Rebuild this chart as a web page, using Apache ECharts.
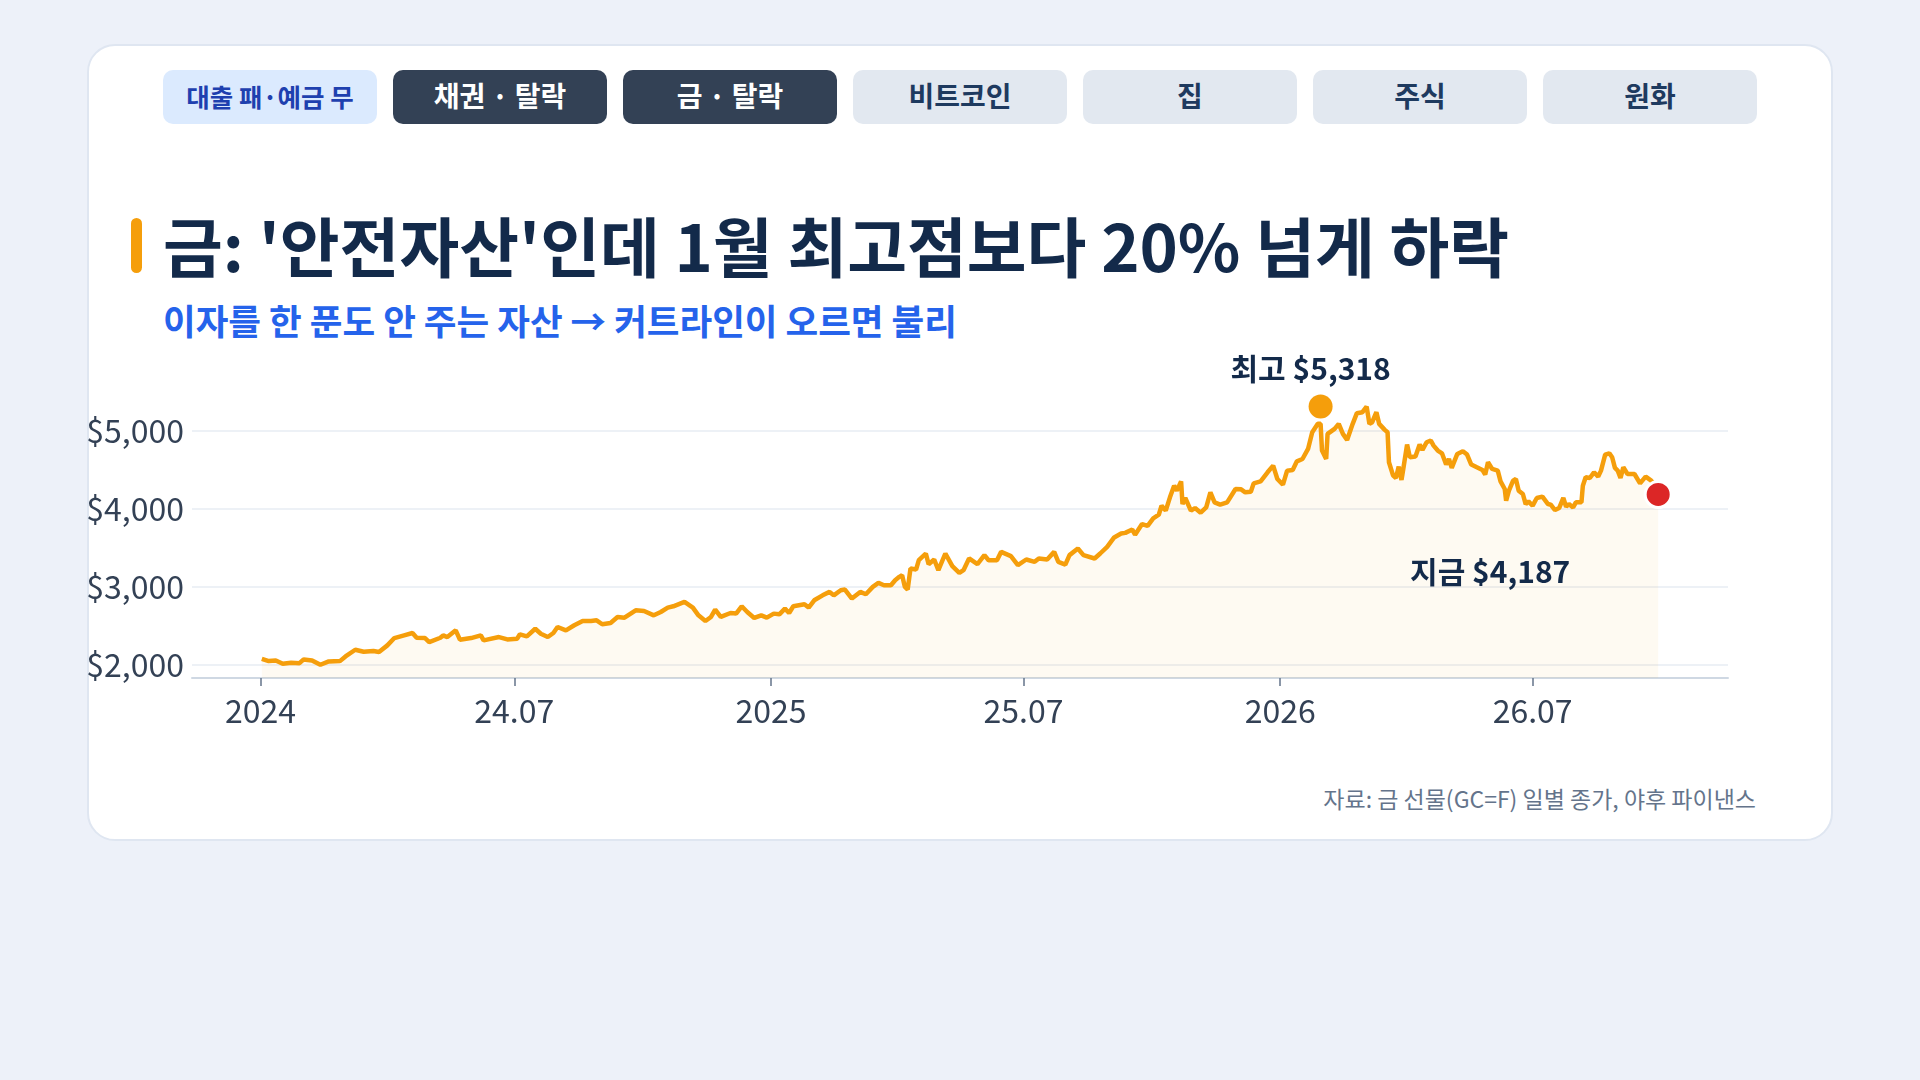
<!DOCTYPE html>
<html>

<head>
    <meta charset="utf-8">
    <script src="https://cdn.jsdelivr.net/npm/echarts@6/dist/echarts.min.js"></script>
</head>

<body>
    <div id="card"></div>
    <div id="tabs"></div>
    <div id="titleBar"></div>
    <div id="title">금: '안전자산'인데 1월 최고점보다 20% 넘게 하락</div>
    <div id="subtitle">이자를 한 푼도 안 주는 자산 → 커트라인이 오르면 불리</div>
    <div id="source">자료: 금 선물(GC=F) 일별 종가, 야후 파이낸스</div>
    <div id="chart"></div>
</body>
<style>
    body {
        margin: 0;
        width: 1920px;
        height: 1080px;
        background: #edf1f9;
        font-family: 'Noto Sans CJK KR', 'Noto Sans', sans-serif;
        position: relative;
        overflow: hidden;
    }

    #card {
        position: absolute;
        left: 87px;
        top: 44px;
        width: 1742px;
        height: 793px;
        background: #fff;
        border: 2px solid #dfe6f1;
        border-radius: 28px;
    }

    #tabs {
        position: absolute;
        left: 163px;
        top: 70px;
        display: flex;
        gap: 16px;
    }

    .tab {
        width: 214px;
        height: 54px;
        box-sizing: border-box;
        padding-bottom: 4px;
        border-radius: 10px;
        display: flex;
        align-items: center;
        justify-content: center;
        font-size: 28px;
        font-weight: 700;
        background: #e2e8f0;
        color: #1e3a5f;
    }

    .tab.info {
        background: #dbeafe;
        color: #1e40af;
        font-size: 25.5px;
    }

    .tab.on {
        background: #334155;
        color: #fff;
    }

    #titleBar {
        position: absolute;
        left: 131px;
        top: 218px;
        width: 11px;
        height: 55px;
        border-radius: 6px;
        background: #f59e0b;
    }

    #title {
        position: absolute;
        left: 163px;
        top: 206px;
        line-height: 76px;
        font-size: 65px;
        font-weight: 700;
        color: #132a4a;
        white-space: nowrap;
    }

    #subtitle {
        position: absolute;
        left: 163px;
        top: 297px;
        line-height: 46px;
        font-size: 35.5px;
        font-weight: 700;
        color: #2563eb;
        white-space: nowrap;
    }

    #source {
        position: absolute;
        right: 164px;
        top: 783px;
        line-height: 30px;
        font-size: 23px;
        color: #64748b;
        white-space: nowrap;
    }

    #chart {
        position: absolute;
        left: 0;
        top: 0;
        width: 1920px;
        height: 1080px;
    }
</style>
<script>
    const tabNames = ['대출 패·예금 무', '채권 · 탈락', '금 · 탈락', '비트코인', '집', '주식', '원화']
    const tabKinds = ['info', 'on', 'on', '', '', '', '']

    // 2024-01-01 부터의 일수, 종가(달러)
    const days = [
        1, 6, 11, 16, 22, 28, 31, 37, 43, 49, 57, 61, 68, 74, 81, 85, 91, 96, 103, 109,
        112, 118, 121, 129, 131, 134, 140, 143, 151, 158, 160, 171, 177, 184, 186, 191, 197, 201, 206, 210,
        213, 219, 225, 231, 237, 241, 245, 251, 256, 261, 269, 275, 282, 287, 292, 296, 304, 310, 314, 319,
        323, 326, 330, 337, 341, 345, 349, 354, 359, 363, 368, 372, 376, 379, 382, 390, 393, 397, 403, 408,
        411, 416, 419, 424, 430, 434, 439, 443, 447, 452, 455, 458, 460, 462, 464, 466, 470, 472, 477, 479,
        483, 486, 491, 496, 501, 504, 508, 514, 519, 522, 528, 531, 538, 543, 549, 555, 558, 564, 569, 572,
        577, 580, 586, 590, 598, 602, 607, 612, 617, 620, 625, 627, 632, 636, 640, 644, 646, 649, 652, 655,
        657, 660, 661, 663, 667, 670, 674, 678, 681, 684, 688, 693, 699, 703, 706, 710, 712, 717, 722, 726,
        729, 733, 736, 740, 743, 747, 751, 754, 758, 760, 761, 764, 765, 770, 773, 776, 779, 783, 786, 790,
        793, 795, 797, 800, 802, 806, 808, 809, 812, 814, 816, 818, 819, 822, 824, 828, 831, 833, 836, 839,
        841, 844, 847, 850, 852, 854, 858, 862, 865, 868, 872, 876, 878, 880, 883, 887, 889, 892, 893, 895,
        898, 900, 902, 905, 907, 909, 912, 915, 919, 923, 925, 928, 931, 934, 936, 938, 941, 943, 947, 948,
        950, 953, 956, 959, 961, 964, 967, 969, 971, 973, 975, 977, 980, 985, 989, 993, 997, 1000, 1002
    ]
    const prices = [
        2077, 2047, 2056, 2013, 2026, 2021, 2069, 2056, 2000, 2043, 2047, 2107, 2193, 2167, 2176, 2163, 2249, 2343, 2378, 2408,
        2347, 2343, 2292, 2347, 2378, 2356, 2442, 2322, 2343, 2378, 2313, 2356, 2326, 2335, 2391, 2365, 2463, 2399, 2357, 2408,
        2485, 2442, 2507, 2562, 2562, 2571, 2520, 2537, 2614, 2605, 2700, 2691, 2635, 2678, 2734, 2751, 2807, 2734, 2635, 2562,
        2614, 2708, 2614, 2665, 2657, 2751, 2678, 2601, 2635, 2605, 2657, 2648, 2721, 2665, 2751, 2777, 2734, 2828, 2892, 2936,
        2892, 2957, 2966, 2850, 2936, 2906, 3000, 3051, 3021, 3021, 3086, 3129, 3150, 3000, 2966, 3236, 3223, 3343, 3429, 3292,
        3352, 3215, 3429, 3266, 3180, 3215, 3365, 3292, 3408, 3343, 3343, 3450, 3395, 3279, 3352, 3322, 3365, 3352, 3450, 3322,
        3287, 3408, 3493, 3408, 3365, 3429, 3515, 3635, 3686, 3694, 3738, 3670, 3807, 3785, 3880, 3927, 4043, 3979, 4150, 4300,
        4236, 4356, 4064, 4142, 3979, 4013, 3953, 4021, 4215, 4086, 4056, 4086, 4257, 4253, 4215, 4223, 4330, 4356, 4472, 4558,
        4386, 4313, 4493, 4502, 4613, 4643, 4772, 4987, 5094, 5094, 4751, 4643, 4965, 5030, 5094, 4965, 4888, 5094, 5231, 5244,
        5317, 5094, 5115, 5244, 5094, 5017, 4987, 4601, 4429, 4399, 4545, 4373, 4485, 4828, 4665, 4674, 4828, 4759, 4858, 4880,
        4815, 4751, 4716, 4571, 4643, 4528, 4708, 4742, 4699, 4571, 4536, 4502, 4442, 4601, 4515, 4493, 4356, 4257, 4107, 4236,
        4365, 4386, 4236, 4193, 4064, 4099, 4043, 4142, 4159, 4064, 4056, 3987, 4013, 4142, 4030, 4064, 4021, 4086, 4086, 4300,
        4408, 4399, 4472, 4416, 4493, 4699, 4716, 4665, 4528, 4493, 4399, 4536, 4450, 4450, 4330, 4416, 4365, 4300, 4187
    ]

    const peakDay = 760
    const peakPrice = 5318
    const peakText = '최고 $5,318'
    const nowText = '지금 $4,187'
    const yMin = 1830
    const yMax = 5850

    const tabsEl = document.getElementById('tabs')
    tabNames.forEach((name, i) => {
        const el = document.createElement('div')
        el.className = 'tab ' + tabKinds[i]
        el.textContent = name
        tabsEl.appendChild(el)
    })

    const DAY = 86400000
    const base = Date.UTC(2024, 0, 1)
    const toTime = d => base + d * DAY
    const lineData = days.map((d, i) => [toTime(d), prices[i]])
    const first = toTime(days[0])
    const last = toTime(days[days.length - 1])
    const pad = (last - first) * 0.05

    const chart = echarts.init(document.getElementById('chart'))
    const font = "'Noto Sans CJK KR', 'Noto Sans', sans-serif"

    chart.setOption({
        useUTC: true,
        animation: false,
        textStyle: { fontFamily: font },
        grid: { left: 192, right: 192, top: 365, bottom: 402 },
        xAxis: {
            type: 'time',
            min: first - pad,
            max: last + pad,
            minInterval: 183 * DAY,
            maxInterval: 183 * DAY,
            axisLine: { lineStyle: { color: '#cfd8e3', width: 2 } },
            axisTick: { show: true, length: 8, lineStyle: { color: '#64748b', width: 1.5 } },
            splitLine: { show: false },
            axisLabel: {
                color: '#334155',
                fontSize: 32,
                margin: 17,
                formatter: (v) => {
                    const d = new Date(v)
                    const m = d.getUTCMonth()
                    const y = d.getUTCFullYear()
                    if (m === 0) return String(y)
                    return String(y).slice(2) + '.' + String(m + 1).padStart(2, '0')
                }
            }
        },
        yAxis: {
            type: 'value',
            min: yMin,
            max: yMax,
            splitNumber: 4,
            axisLine: { show: false },
            axisTick: { show: false },
            splitLine: { showMinLine: false, showMaxLine: false, lineStyle: { color: '#edf1f6', width: 2 } },
            axisLabel: {
                color: '#334155',
                fontSize: 32,
                margin: 8,
                showMinLabel: false,
                showMaxLabel: false,
                formatter: v => (v % 1000 === 0 ? '$' + v.toLocaleString('en-US') : '')
            }
        },
        series: [
            {
                type: 'line',
                data: lineData,
                showSymbol: false,
                symbol: 'none',
                lineStyle: { color: '#f59e0b', width: 4.5 },
                areaStyle: { color: 'rgba(245,158,11,0.08)', origin: 'start' },
                z: 2
            },
            {
                type: 'scatter',
                data: [[toTime(peakDay), peakPrice]],
                symbolSize: 24,
                itemStyle: { color: '#f59e0b', opacity: 1 },
                label: {
                    show: true,
                    position: 'top',
                    distance: 11,
                    offset: [-10, 0],
                    formatter: peakText,
                    color: '#132a4a',
                    fontSize: 30,
                    fontWeight: 'bold',
                    fontFamily: font
                },
                z: 3
            },
            {
                type: 'scatter',
                data: [[last, prices[prices.length - 1]]],
                symbolSize: 26,
                itemStyle: { color: '#dc2626', borderColor: '#fff', borderWidth: 3, opacity: 1 },
                label: {
                    show: true,
                    position: 'inside',
                    offset: [-168, 77],
                    formatter: nowText,
                    color: '#132a4a',
                    fontSize: 30,
                    fontWeight: 'bold',
                    fontFamily: font
                },
                z: 3
            }
        ]
    })
</script>

</html>
